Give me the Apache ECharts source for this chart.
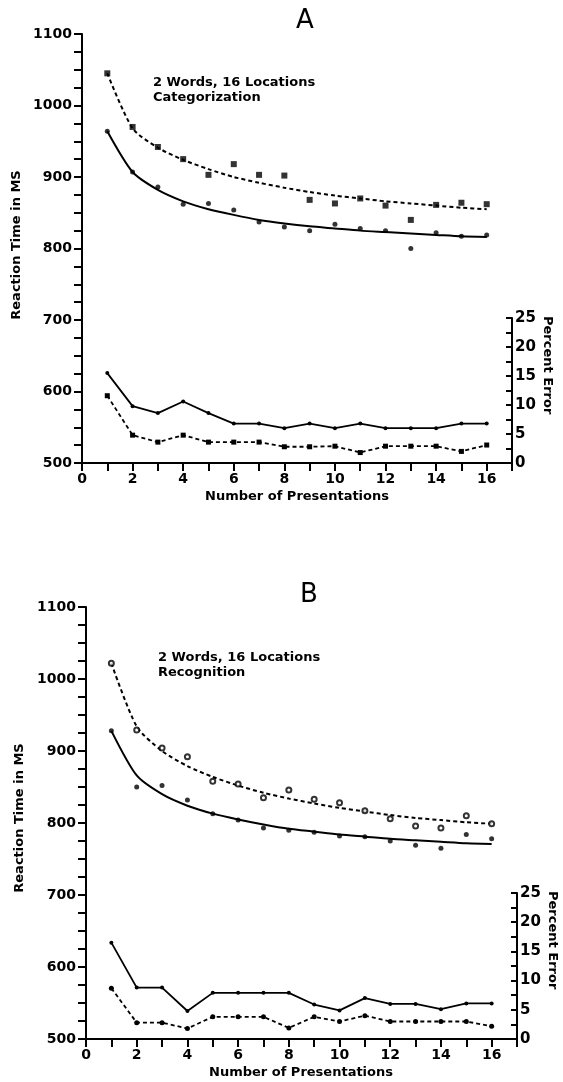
<!DOCTYPE html>
<html>
<head>
<meta charset="utf-8">
<title>Reaction time and percent error by number of presentations</title>
<script src="https://cdn.jsdelivr.net/npm/echarts@6/dist/echarts.min.js"></script>
<style>
    html, body { margin: 0; padding: 0; background: #fff; }
    #chart { width: 563px; height: 1082px; }
</style>
</head>
<body>
<div id="chart"></div>
<script>
// x values: presentation number
var presentations = [1, 2, 3, 4, 5, 6, 7, 8, 9, 10, 11, 12, 13, 14, 15, 16];
var xTickLabels = [0, 2, 4, 6, 8, 10, 12, 14, 16];
var rtTickLabels = [500, 600, 700, 800, 900, 1000, 1100];
var errTickLabels = [0, 5, 10, 15, 20, 25];

// panel A - categorization
var rtA_fitSolid  = [964, 907, 882, 866, 855, 847, 840, 835, 831, 828, 825, 823, 821, 819, 817, 816];
var rtA_fitDashed = [1045, 968, 941, 924, 911, 900, 892, 885, 879, 874, 870, 866, 863, 860, 857, 855];
var rtA_obsSolid  = [964, 907, 886, 862, 863, 854, 837, 830, 825, 834, 828, 825, 800, 822, 817, 819];
var rtA_obsDashed = [1045, 970, 942, 925, 903, 918, 903, 902, 868, 863, 870, 860, 840, 861, 864, 862];
var errA_solid    = [15.5, 9.8, 8.6, 10.6, 8.6, 6.8, 6.8, 6.0, 6.8, 6.0, 6.8, 6.0, 6.0, 6.0, 6.8, 6.8];
var errA_dashed   = [11.6, 4.8, 3.6, 4.8, 3.6, 3.6, 3.6, 2.8, 2.8, 2.9, 1.8, 2.9, 2.9, 2.9, 2.0, 3.1];

// panel B - recognition
var rtB_fitSolid  = [928, 866, 840, 824, 813, 805, 798, 792, 788, 784, 781, 778, 776, 774, 772, 771];
var rtB_fitDashed = [1022, 934, 900, 879, 864, 852, 842, 834, 827, 821, 816, 811, 807, 804, 801, 799];
var rtB_obsSolid  = [928, 850, 852, 832, 813, 804, 793, 790, 787, 782, 781, 775, 769, 765, 784, 778];
var rtB_obsDashed = [1022, 929, 904, 892, 858, 854, 835, 846, 833, 828, 817, 806, 796, 793, 810, 799];
var errB_solid    = [16.5, 8.8, 8.8, 4.8, 7.9, 7.9, 7.9, 7.9, 5.9, 4.9, 7.0, 6.0, 6.0, 5.1, 6.1, 6.1];
var errB_dashed   = [8.7, 2.8, 2.8, 1.8, 3.8, 3.8, 3.8, 1.9, 3.8, 3.0, 4.0, 3.0, 3.0, 3.0, 3.0, 2.2];

var FONT = 'DejaVu Sans';
var INK = '#000';
var DASH = [4, 3];
var boldFont = 'bold 13px "DejaVu Sans"';

function pairs(ys) {
    var res = [];
    for (var i = 0; i < presentations.length; i++) {
        res.push([presentations[i], ys[i]]);
    }
    return res;
}

// only some tick values carry a label, the rest are bare ticks
function onlyLabels(list) {
    return function (v) {
        for (var i = 0; i < list.length; i++) {
            if (Math.abs(list[i] - v) < 1e-6) return String(list[i]);
        }
        return '';
    };
}

function xAxisFor(gridIndex, visible) {
    return {
        type: 'value', gridIndex: gridIndex, min: 0, max: 17, interval: 1,
        axisLine: {show: visible, onZero: false, lineStyle: {color: INK, width: 2}},
        axisTick: {show: visible, length: 8, lineStyle: {color: INK, width: 2}},
        axisLabel: {show: visible, color: INK, fontFamily: FONT, fontWeight: 'bold', fontSize: 14, margin: 9,
            formatter: onlyLabels(xTickLabels)},
        splitLine: {show: false}
    };
}

function rtAxis(gridIndex) {
    return {
        type: 'value', gridIndex: gridIndex, min: 500, max: 1100, interval: 25,
        axisLine: {show: true, onZero: false, lineStyle: {color: INK, width: 2}},
        axisTick: {show: true, length: 8, lineStyle: {color: INK, width: 2}},
        axisLabel: {show: true, color: INK, fontFamily: FONT, fontWeight: 'bold', fontSize: 14, margin: 10,
            formatter: onlyLabels(rtTickLabels)},
        splitLine: {show: false}
    };
}

function errAxis(gridIndex) {
    return {
        type: 'value', gridIndex: gridIndex, min: 0, max: 25, interval: 2.5,
        position: 'right',
        axisLine: {show: true, onZero: false, lineStyle: {color: INK, width: 2}},
        axisTick: {show: true, inside: true, length: 6, lineStyle: {color: INK, width: 2}},
        axisLabel: {show: true, color: INK, fontFamily: FONT, fontWeight: 'bold', fontSize: 15, margin: 3,
            formatter: onlyLabels(errTickLabels)},
        splitLine: {show: false}
    };
}

// one panel = fitted curves + observed points on RT grid, error lines on the small grid
function panelSeries(rtIdx, errIdx, fitSolid, fitDashed, obsSolid, obsDashed, errSolid, errDashed, mark) {
    return [
        {type: 'line', name: 'fit solid', xAxisIndex: rtIdx, yAxisIndex: rtIdx, data: pairs(fitSolid),
            symbol: 'none', smooth: 0.25, lineStyle: {color: INK, width: 2}},
        {type: 'line', name: 'fit dashed', xAxisIndex: rtIdx, yAxisIndex: rtIdx, data: pairs(fitDashed),
            symbol: 'none', smooth: 0.25, lineStyle: {color: INK, width: 2, type: DASH}},
        {type: 'scatter', name: 'observed solid', xAxisIndex: rtIdx, yAxisIndex: rtIdx, data: pairs(obsSolid),
            symbol: 'circle', symbolSize: 5, itemStyle: {color: INK}, z: 5},
        {type: 'scatter', name: 'observed dashed', xAxisIndex: rtIdx, yAxisIndex: rtIdx, data: pairs(obsDashed),
            symbol: mark, symbolSize: mark === 'rect' ? 6 : 5,
            itemStyle: {color: INK, borderColor: INK, borderWidth: mark === 'rect' ? 0 : 2}, z: 5},
        {type: 'line', name: 'error solid', xAxisIndex: errIdx, yAxisIndex: errIdx, data: pairs(errSolid),
            symbol: 'circle', symbolSize: 4, itemStyle: {color: INK}, lineStyle: {color: INK, width: 1.8}},
        {type: 'line', name: 'error dashed', xAxisIndex: errIdx, yAxisIndex: errIdx, data: pairs(errDashed),
            symbol: mark === 'rect' ? 'rect' : 'circle', symbolSize: 5, itemStyle: {color: INK},
            lineStyle: {color: INK, width: 1.8, type: DASH}}
    ];
}

function label(text, x, y, rotation, font) {
    return {type: 'text', x: x, y: y, rotation: rotation || 0,
        style: {text: text, fill: INK, font: font || boldFont, textAlign: 'center', textVerticalAlign: 'middle'}};
}

function sideLabel(text, x, y) {
    return {type: 'text', x: x, y: y, rotation: -Math.PI / 2,
        style: {text: text, fill: INK, font: boldFont, textAlign: 'left', textVerticalAlign: 'middle'}};
}

var myChart = echarts.init(document.getElementById('chart'));

var option = {
    backgroundColor: '#fff',
    animation: false,
    grid: [
        {left: 82, top: 34, right: 51, bottom: 619},
        {left: 82, top: 318, right: 51, bottom: 619},
        {left: 86, top: 607, right: 46, bottom: 43},
        {left: 86, top: 893, right: 46, bottom: 43}
    ],
    xAxis: [xAxisFor(0, true), xAxisFor(1, false), xAxisFor(2, true), xAxisFor(3, false)],
    yAxis: [rtAxis(0), errAxis(1), rtAxis(2), errAxis(3)],
    series: [].concat(
        panelSeries(0, 1, rtA_fitSolid, rtA_fitDashed, rtA_obsSolid, rtA_obsDashed, errA_solid, errA_dashed, 'rect'),
        panelSeries(2, 3, rtB_fitSolid, rtB_fitDashed, rtB_obsSolid, rtB_obsDashed, errB_solid, errB_dashed, 'emptyCircle')
    ),
    graphic: [
        label('A', 305, 21, 0, '26px "DejaVu Sans"'),
        label('B', 309, 595, 0, '26px "DejaVu Sans"'),
        {type: 'text', left: 153, top: 75, style: {text: '2 Words, 16 Locations\nCategorization', lineHeight: 15, fill: INK, font: boldFont}},
        {type: 'text', left: 158, top: 650, style: {text: '2 Words, 16 Locations\nRecognition', lineHeight: 15, fill: INK, font: boldFont}},
        label('Reaction Time in MS', 17, 245, Math.PI / 2),
        label('Reaction Time in MS', 20, 818, Math.PI / 2),
        label('Number of Presentations', 297, 497),
        label('Number of Presentations', 301, 1073),
        sideLabel('Percent Error', 547, 316),
        sideLabel('Percent Error', 552, 891)
    ]
};

myChart.setOption(option);
window.addEventListener('resize', function () {
    myChart.resize();
});
</script>
</body>
</html>
